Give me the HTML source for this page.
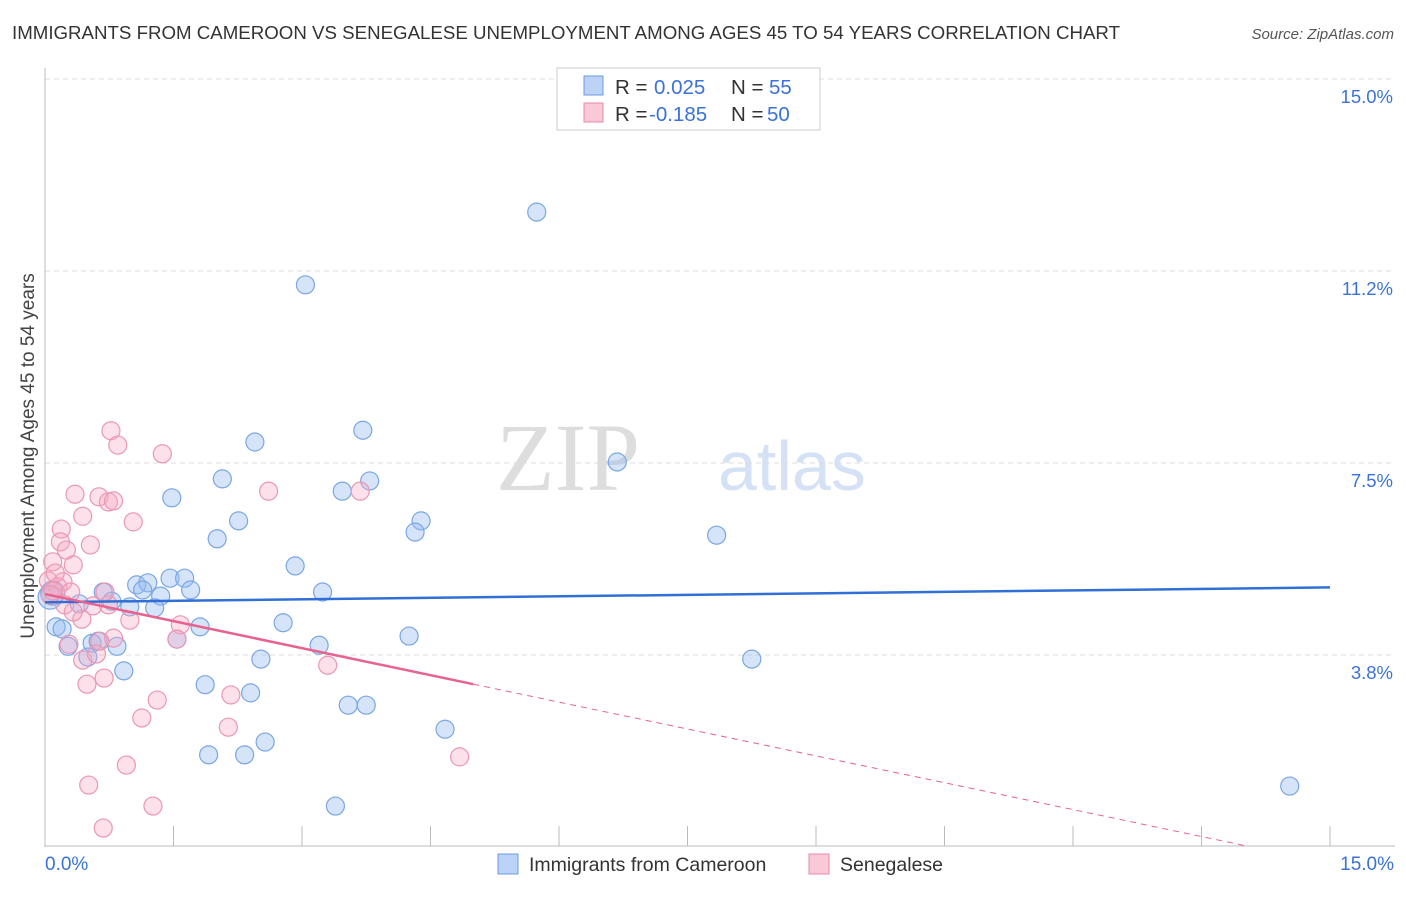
<!DOCTYPE html>
<html><head><meta charset="utf-8"><style>
body{margin:0;background:#fff;font-family:"Liberation Sans",sans-serif}
svg text{font-family:"Liberation Sans",sans-serif}
</style></head><body>
<svg id="c" width="1406" height="892" viewBox="0 0 1406 892" xmlns="http://www.w3.org/2000/svg">
<text x="12" y="39" font-size="18.7" fill="#333">IMMIGRANTS FROM CAMEROON VS SENEGALESE UNEMPLOYMENT AMONG AGES 45 TO 54 YEARS CORRELATION CHART</text>
<text x="1394" y="39" font-size="15" fill="#555" font-style="italic" text-anchor="end">Source: ZipAtlas.com</text>
<text x="640" y="490" font-size="96" fill="#ddd" text-anchor="end" font-family="Liberation Serif" style="font-family:'Liberation Serif',serif">ZIP</text>
<text x="718" y="490" font-size="70" fill="#d5e2f5">atlas</text>
<g id="grid"></g>
<line x1="45" y1="68" x2="45" y2="847" stroke="#bbb"/>
<line x1="45" y1="846" x2="1395" y2="846" stroke="#bbb"/>
<g id="xt"></g>
<g id="yt"></g>
<text x="34" y="456" font-size="19" fill="#444" text-anchor="middle" transform="rotate(-90 34 456)">Unemployment Among Ages 45 to 54 years</text>
<text x="45" y="870" font-size="19" fill="#3b72d6">0.0%</text>
<text x="1394" y="870" font-size="19" fill="#3b72d6" text-anchor="end">15.0%</text>
<g id="pts"></g>
<g id="lines"></g>
<g>
<rect x="557" y="68" width="263" height="62" fill="#fff" stroke="#ccc"/>
<rect x="584" y="76" width="19" height="19" fill="#bcd3f5" stroke="#6a9be0"/>
<rect x="584" y="103" width="19" height="19" fill="#f9c9d8" stroke="#e88aa8"/>
<text y="94" font-size="20.5" fill="#333"><tspan x="615">R =</tspan><tspan x="654" fill="#3b72d6">0.025</tspan><tspan x="731">N =</tspan><tspan x="769" fill="#3b72d6">55</tspan></text>
<text y="121" font-size="20.5" fill="#333"><tspan x="615">R =</tspan><tspan x="649" fill="#3b72d6">-0.185</tspan><tspan x="731">N =</tspan><tspan x="767" fill="#3b72d6">50</tspan></text>
</g>
<g>
<rect x="498" y="854" width="20" height="20" fill="#bcd3f5" stroke="#6a9be0"/>
<text x="529" y="871" font-size="19.5" fill="#333">Immigrants from Cameroon</text>
<rect x="809" y="854" width="20" height="20" fill="#f9c9d8" stroke="#e88aa8"/>
<text x="840" y="871" font-size="19.5" fill="#333">Senegalese</text>
</g>
</svg>
<script>
const yTicks=[3.75,7.5,11.25,15];
const yTickLabels=["3.8%","7.5%","11.2%","15.0%"];
const xTicks=[0,1.5,3,4.5,6,7.5,9,10.5,12,13.5,15];
const blueX=[5.74,3.04,6.68,3.71,2.45,2.07,3.79,1.48,3.47,2.26,4.39,4.32,2.01,7.84,2.92,1.07,1.20,1.46,1.63,1.70,1.35,0.68,1.14,3.24,0.40,0.78,0.99,1.28,0.13,0.20,1.81,2.78,4.25,0.55,0.62,0.84,0.27,1.54,3.20,2.52,0.50,8.25,0.92,1.87,2.40,3.54,3.75,4.67,2.57,1.91,2.33,3.39,14.53,0.06,0.09];
const blueY=[12.4,10.98,7.52,8.14,7.91,7.19,7.15,6.82,6.95,6.37,6.37,6.15,6.02,6.09,5.49,5.12,5.16,5.25,5.25,5.02,4.90,4.98,5.02,4.98,4.75,4.80,4.69,4.67,4.30,4.26,4.30,4.38,4.12,3.98,4.02,3.92,3.92,4.06,3.94,3.67,3.71,3.67,3.44,3.17,3.01,2.77,2.77,2.30,2.05,1.80,1.80,0.80,1.19,4.88,4.96];
const pinkX=[0.77,0.85,1.37,0.35,0.63,0.74,0.80,2.61,3.68,1.03,0.44,0.19,0.18,0.25,0.53,0.33,0.09,0.04,0.21,0.15,0.30,0.06,0.23,0.56,0.74,0.43,0.99,1.58,0.09,0.80,0.28,0.64,1.54,0.44,0.60,3.30,0.49,0.69,1.31,2.17,1.13,2.14,0.95,4.84,0.51,1.26,0.68,0.12,0.33,0.70];
const pinkY=[8.13,7.85,7.68,6.89,6.84,6.74,6.76,6.95,6.95,6.35,6.46,6.21,5.96,5.80,5.90,5.51,5.57,5.20,5.18,5.08,4.98,4.92,4.73,4.71,4.73,4.45,4.43,4.34,5.00,4.08,3.96,4.02,4.06,3.65,3.77,3.55,3.18,3.30,2.87,2.97,2.52,2.34,1.60,1.76,1.21,0.80,0.37,5.35,4.59,4.98];
const blueFit=[4.78,5.07];
const pinkFit=[4.94,3.18,0.03];
const pinkSolidEnd=5.0, pinkDashEnd=14.0;
const X=v=>45+v/15*1285, Y=v=>847-v/15*768;
const NS="http://www.w3.org/2000/svg";
function mk(p,t,a){const e=document.createElementNS(NS,t);for(const k in a)e.setAttribute(k,a[k]);document.getElementById(p).appendChild(e);return e;}
yTicks.forEach((t,i)=>{
 const l=mk('grid','line',{x1:45,x2:1395,y1:Y(t),y2:Y(t),stroke:'#ddd','stroke-dasharray':'5,4'});
 
 
 const tx=mk('yt','text',{x:1393,y:Y(t)+24,'font-size':18.5,fill:'#3b72d6','text-anchor':'end'});
 tx.textContent=yTickLabels[i];
 
 
});
xTicks.forEach(t=>{
 const l=mk('xt','line',{x1:X(t),x2:X(t),y1:826,y2:846,stroke:'#bbb'});
 
 
});
blueX.forEach((v,i)=>{
 const c=mk('pts','circle',{cx:X(v),cy:Y(blueY[i]),r:i>=53?12:9,fill:'rgba(150,188,240,0.4)',stroke:'#7aa6e4','stroke-width':1.2});
 
 
});
pinkX.forEach((v,i)=>{
 const c=mk('pts','circle',{cx:X(v),cy:Y(pinkY[i]),r:9,fill:'rgba(245,170,195,0.35)',stroke:'#eb97b2','stroke-width':1.2});
 
 
});
const b=mk('lines','line',{x1:X(0),y1:Y(blueFit[0]),x2:X(15),y2:Y(blueFit[1]),stroke:'#2f6fd6','stroke-width':2.5});


const p=mk('lines','line',{x1:X(0),y1:Y(pinkFit[0]),x2:X(pinkSolidEnd),y2:Y(pinkFit[1]),stroke:'#e8628e','stroke-width':2.5});


const d=mk('lines','line',{x1:X(pinkSolidEnd),y1:Y(pinkFit[1]),x2:X(pinkDashEnd),y2:Y(pinkFit[2]),stroke:'#e8628e','stroke-width':1,'stroke-dasharray':'6,5'});


</script>
</body></html>
